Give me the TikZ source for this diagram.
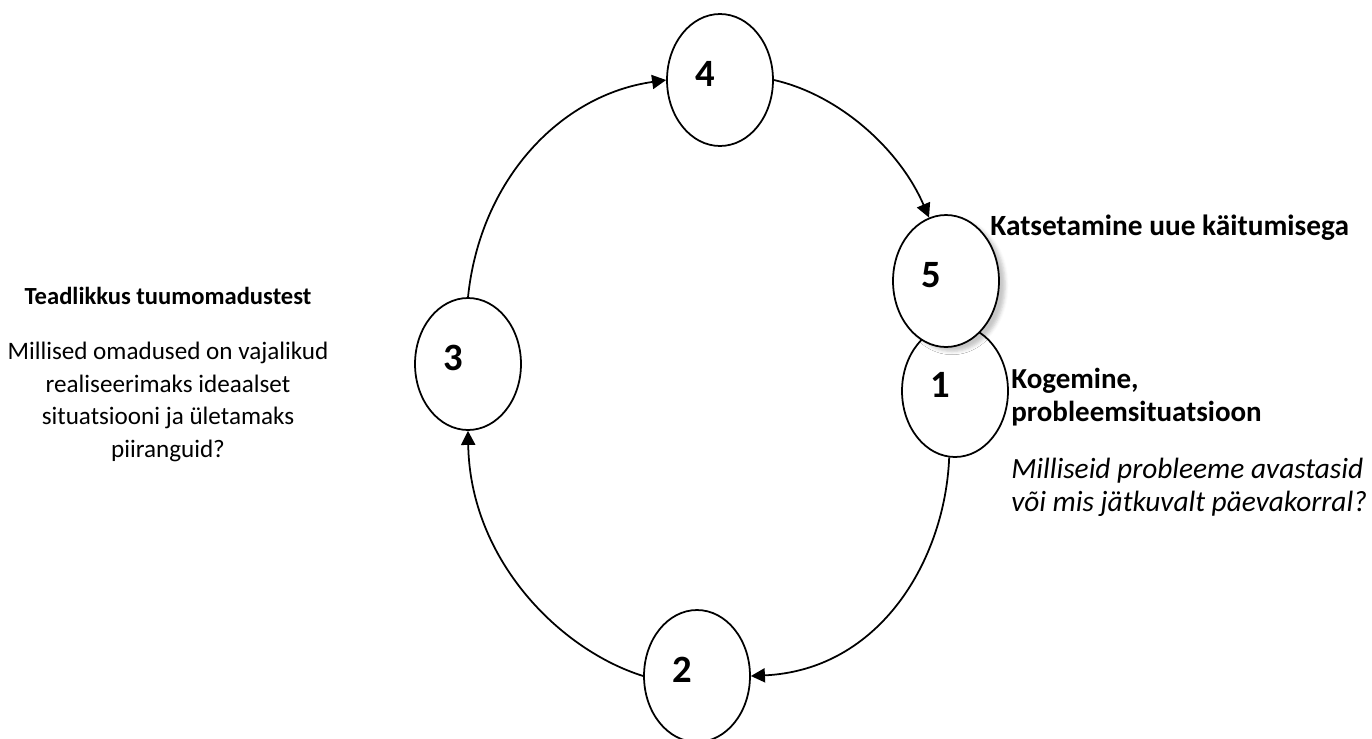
\documentclass[tikz,border=0pt]{standalone}
\usepackage{fontspec}
\setmainfont{Carlito}
\usetikzlibrary{shapes.geometric,arrows.meta,shadows.blur}

\begin{document}
\begin{tikzpicture}[x=0.02cm,y=-0.02cm,
    stage/.style={ellipse,draw,line width=1pt,fill=white,inner sep=0pt,
      minimum width=2.12cm,minimum height=2.64cm},
    num/.style={font=\fontsize{22}{22}\selectfont\bfseries,xshift=-8.5pt,yshift=3.4pt},
    flow/.style={line width=1pt,-{Triangle[length=8pt,width=8pt]}},
    txt/.style={font=\fontsize{14.3}{18.6}\selectfont,inner sep=0pt},
    bigtxt/.style={inner sep=0pt,align=left,anchor=west}]
        \def\xmax{1372} \def\ymax{738}
        \useasboundingbox (0,0) rectangle (\xmax,\ymax);

        \node[stage,label={[num]center:4}] (n4) at (720,80) {};
        \node[stage,label={[num]center:3}] (n3) at (468,364) {};
        \node[stage,label={[num]center:2}] (n2) at (697,676) {};
        \node[stage,label={[num]center:1}] (n1) at (955,391) {};
        \node[stage,blur shadow={shadow xshift=3.5pt,shadow yshift=-2.5pt,shadow opacity=22},
              label={[num]center:5}] (n5) at (946,281) {};

        \draw[flow] (n4.east) .. controls (840,95) and (900,150) .. (n5.105);
        \draw[flow] (n1.265) .. controls (945,560) and (880,670) .. (n2.east);
        \draw[flow] (n2.west) .. controls (560,650) and (470,560) .. (n3.south);
        \draw[flow] (n3.north) .. controls (480,180) and (560,95) .. (n4.west);

        % captions
        \node[bigtxt,font=\fontsize{16.7}{18.8}\selectfont\bfseries] (katse) at (990,228) {Katsetamine uue käitumisega};
        \node[txt,font=\fontsize{14}{18.5}\selectfont\bfseries] (teadl) at (168,296) {Teadlikkus tuumomadustest};
        \node[txt,align=center] (teadlq) at (168,402) {Millised omadused on vajalikud\\realiseerimaks ideaalset\\situatsiooni ja ületamaks\\piiranguid?};
        \node[bigtxt,font=\fontsize{16.5}{18.8}\selectfont\bfseries] (kog) at (1011,397) {Kogemine,\\probleemsituatsioon};
        \node[bigtxt,font=\fontsize{16.7}{18.8}\selectfont\itshape] (kogq) at (1011,487) {Milliseid probleeme avastasid\\või mis jätkuvalt päevakorral?};
      \end{tikzpicture}
\end{document}
